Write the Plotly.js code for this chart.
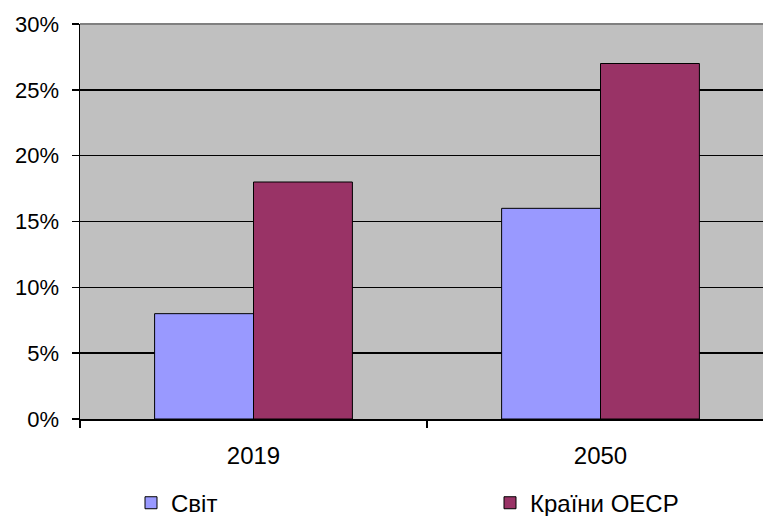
<!DOCTYPE html>
<html>
<head>
<meta charset="utf-8">
<script src="https://cdn.plot.ly/plotly-3.0.1.min.js"></script>
<style>
  html, body { margin: 0; padding: 0; overflow: hidden; background: #fff; }
  #chart { width: 790px; height: 516px; }
</style>
</head>
<body>
<div id="chart"></div>
<script>
// Частка населення віком 65+ (світ vs країни ОЕСР)
const years = ['2019', '2050'];
const seriesNames = ['Світ', 'Країни ОЕСР'];
const worldShare = [0.08, 0.16];
const oecdShare = [0.18, 0.27];
const yTickVals = [0, 0.05, 0.10, 0.15, 0.20, 0.25, 0.30];
const yTickText = ['0%', '5%', '10%', '15%', '20%', '25%', '30%'];

const FONT = '"Liberation Sans", Arial, sans-serif';

const traces = [
  {
    type: 'bar', name: seriesNames[0], x: years, y: worldShare,
    legend: 'legend',
    marker: { color: '#9999FF', line: { color: '#000000', width: 1 } },
    hoverinfo: 'skip'
  },
  {
    type: 'bar', name: seriesNames[1], x: years, y: oecdShare,
    legend: 'legend2',
    marker: { color: '#993366', line: { color: '#000000', width: 1 } },
    hoverinfo: 'skip'
  }
];

// each series gets its own legend box so the two entries sit far apart
const legendBase = {
  orientation: 'h',
  xanchor: 'left',
  y: -0.213, yanchor: 'middle',
  font: { family: FONT, size: 24 },
  bgcolor: 'rgba(0,0,0,0)'
};

const layout = {
  width: 790, height: 516,
  margin: { l: 80, r: 16, t: 24, b: 97, autoexpand: false },
  paper_bgcolor: '#ffffff',
  plot_bgcolor: '#C0C0C0',
  font: { family: FONT, size: 22, color: '#000000' },
  barmode: 'group',
  bargap: 0.43,
  bargroupgap: 0,
  showlegend: true,
  legend: Object.assign({}, legendBase, { x: 0.0735 }),
  legend2: Object.assign({}, legendBase, { x: 0.5908 }),
  xaxis: {
    type: 'category',
    range: [-0.5, 1.5],
    showgrid: false,
    showline: true, linecolor: '#000000', linewidth: 1.5,
    ticks: 'outside', tickson: 'boundaries', ticklen: 7, tickwidth: 1.5, tickcolor: '#000000',
    ticklabelstandoff: 15,
    tickfont: { family: FONT, size: 24 },
    fixedrange: true
  },
  yaxis: {
    range: [0, 0.30],
    tickvals: yTickVals, ticktext: yTickText,
    showgrid: true, gridcolor: '#000000', gridwidth: 1.5,
    showline: true, linecolor: '#000000', linewidth: 1.5,
    zeroline: false,
    ticks: 'outside', ticklen: 7, tickwidth: 1.5, tickcolor: '#000000',
    ticklabelstandoff: 8,
    tickfont: { family: FONT, size: 22 },
    fixedrange: true
  },
  shapes: [
    { type: 'line', xref: 'paper', yref: 'paper', x0: 0, x1: 1, y0: 1, y1: 1,
      line: { color: '#808080', width: 2 }, layer: 'above' }
  ]
};

Plotly.newPlot('chart', traces, layout, { displayModeBar: false, staticPlot: true });
</script>
</body>
</html>
